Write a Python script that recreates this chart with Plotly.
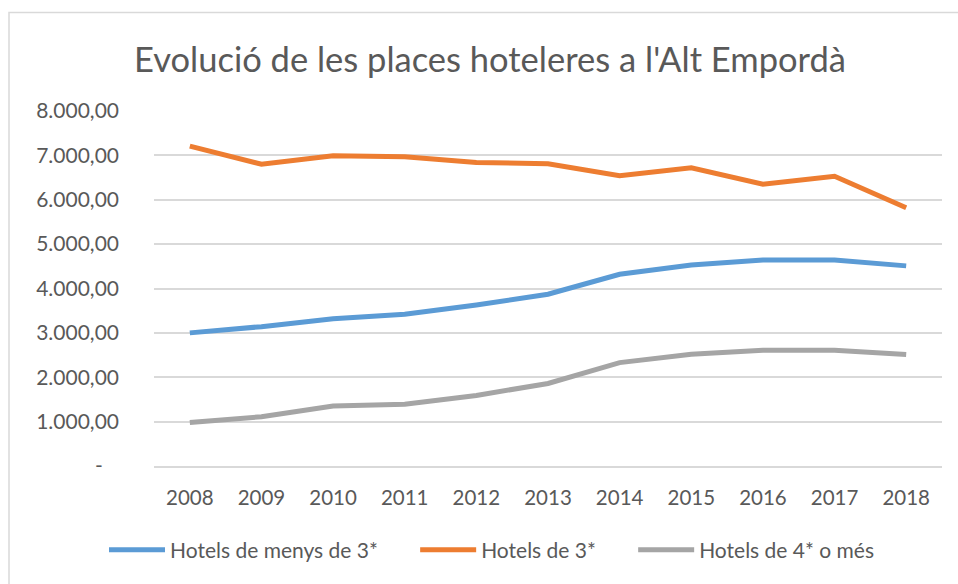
import plotly.graph_objects as go

years = ["2008", "2009", "2010", "2011", "2012", "2013", "2014", "2015", "2016", "2017", "2018"]
menys_3 = [3000, 3140, 3320, 3420, 3630, 3870, 4320, 4530, 4640, 4640, 4510]
de_3 = [7210, 6800, 6990, 6970, 6840, 6810, 6540, 6720, 6350, 6530, 5820]
de_4_o_mes = [980, 1110, 1350, 1390, 1590, 1860, 2330, 2520, 2610, 2610, 2510]

series_names = ["Hotels de menys de 3*", "Hotels de 3*", "Hotels de 4* o més"]
series_colors = ["#5B9BD5", "#ED7D31", "#A5A5A5"]

y_ticks = [0, 1000, 2000, 3000, 4000, 5000, 6000, 7000, 8000]


def fmt(v):
    if v == 0:
        return "-\u00a0\u00a0\u00a0"
    s = f"{v:,.2f}"
    return s.replace(",", "X").replace(".", ",").replace("X", ".")


y_labels = [fmt(v) for v in y_ticks]

W, H = 958, 584
L, R, T, B = 154, 942, 111, 466

pad = "\u00a0" * 6
fig = go.Figure()
for i, (name, vals, col) in enumerate(zip(series_names, [menys_3, de_3, de_4_o_mes], series_colors)):
    label = name + (pad if i < len(series_names) - 1 else "")
    fig.add_trace(go.Scatter(
        x=years, y=vals, name=label, mode="lines",
        line=dict(color=col, width=5),
        hoverinfo="skip",
    ))

font_family = "Lato, 'Open Sans', sans-serif"
text_col = "#595959"

fig.update_layout(
    width=W, height=H,
    margin=dict(l=L, r=W - R, t=T, b=H - B, pad=0),
    paper_bgcolor="white", plot_bgcolor="white",
    font=dict(family=font_family, color=text_col),
    title=dict(
        text="Evolució de les places hoteleres a l'Alt Empordà",
        x=490 / W, xref="container", xanchor="center",
        y=1 - 60 / H, yref="container", yanchor="middle",
        font=dict(size=34.5, color=text_col, family=font_family),
    ),
    showlegend=True,
    legend=dict(
        orientation="h",
        x=492 / W, xref="container", xanchor="center",
        y=1 - 550 / H, yref="container", yanchor="middle",
        font=dict(size=21, color=text_col, family=font_family),
        bgcolor="rgba(0,0,0,0)",
        itemwidth=56,
    ),
    xaxis=dict(
        type="category",
        showgrid=False,
        showline=True, linecolor="#D9D9D9", linewidth=1.5,
        ticks="", tickfont=dict(size=20.5, color=text_col),
        ticklabelstandoff=13,
        range=[-0.5, len(years) - 0.5],
        zeroline=False,
    ),
    yaxis=dict(
        range=[0, 8000],
        tickvals=y_ticks, ticktext=y_labels,
        showgrid=True, gridcolor="#D9D9D9", gridwidth=1.5,
        zeroline=False, showline=False,
        ticks="", tickfont=dict(size=21, color=text_col),
        ticklabelstandoff=34,
    ),
)

pw, ph = R - L, B - T
fig.add_shape(
    type="rect", xref="paper", yref="paper",
    x0=(9 - L) / pw, x1=(965 - L) / pw,
    y0=(B - 600) / ph, y1=(B - 12.5) / ph,
    line=dict(color="#D9D9D9", width=1.5),
    fillcolor="rgba(0,0,0,0)", layer="below",
)

fig.write_html("out.html", config={"displayModeBar": False},
               post_script="document.body.style.margin='0';")
